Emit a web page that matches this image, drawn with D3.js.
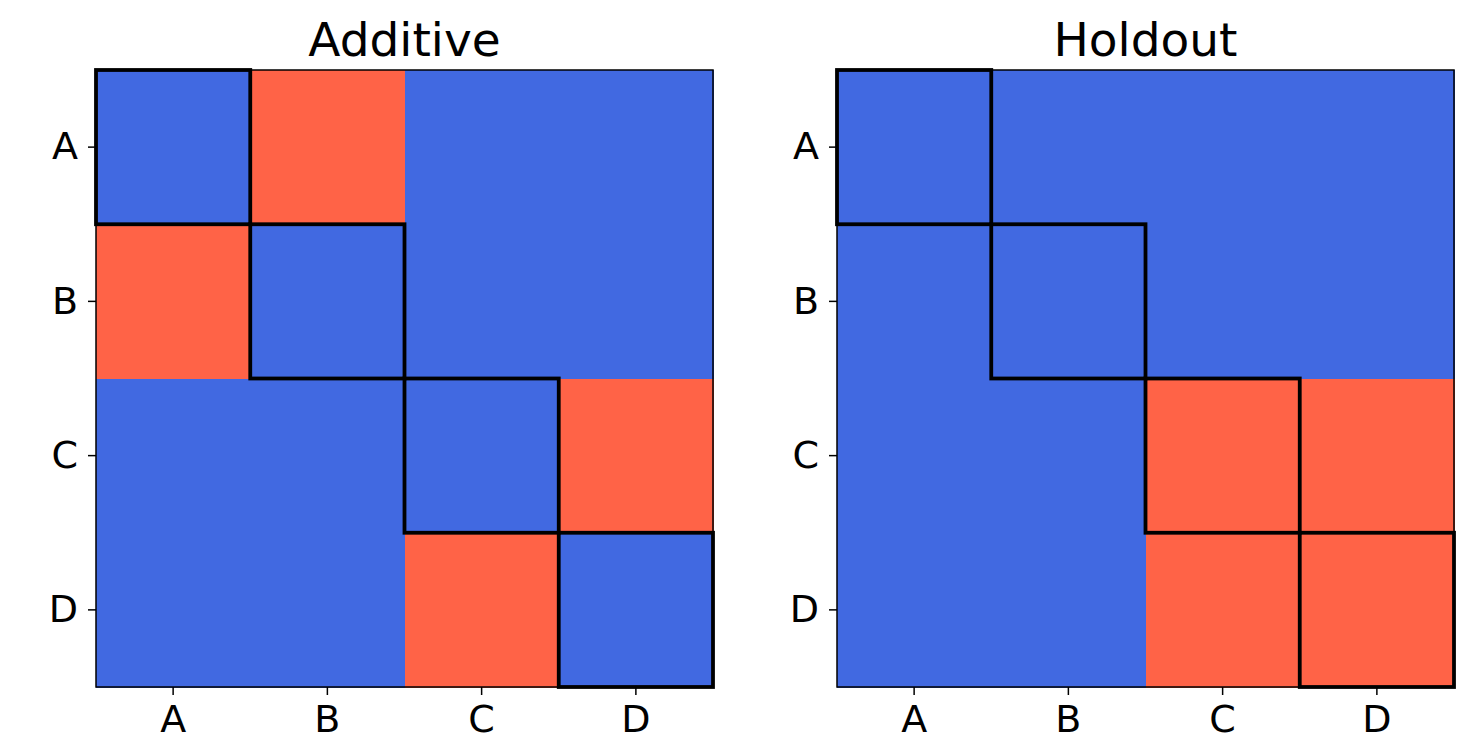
<!DOCTYPE html>
<html>
<head>
<meta charset="utf-8">
<script src="https://cdn.jsdelivr.net/npm/d3@7"></script>
<style>
  body { margin: 0; background: #fff; }
  svg { display: block; font-family: 'DejaVu Sans', sans-serif; }
</style>
</head>
<body>
<svg width="1465" height="736"></svg>
<script>
// categories and panel data (1 = red cell, 0 = blue cell)
var labels = ['A', 'B', 'C', 'D'];
var titles = ['Additive', 'Holdout'];
var additive = [
  [0, 1, 0, 0],
  [1, 0, 0, 0],
  [0, 0, 0, 1],
  [0, 0, 1, 0]
];
var holdout = [
  [0, 0, 0, 0],
  [0, 0, 0, 0],
  [0, 0, 1, 1],
  [0, 0, 1, 1]
];
var panels = [additive, holdout];

var svg = d3.select('svg');
var size = 617; var topY = 70;
var lefts = [96, 837];

var color = d3.scaleOrdinal().domain([0, 1]).range(['#4169E1', '#FF6347']);

panels.forEach(function(m, p) {
  var g = svg.append('g').attr('transform', 'translate(' + lefts[p] + ',' + topY + ')');

  var x = d3.scaleBand().domain(labels).range([0, size]);
  var y = d3.scaleBand().domain(labels).range([0, size]);

  var cells = [];
  m.forEach(function(row, i) {
    row.forEach(function(v, j) {
      cells.push({r: labels[i], c: labels[j], v: v});
    });
  });

  g.selectAll('rect.cell')
    .data(cells)
    .enter()
    .append('rect')
    .attr('class', 'cell')
    .attr('x', d => x(d.c))
    .attr('y', d => y(d.r))
    .attr('width', x.bandwidth() + 1)
    .attr('height', y.bandwidth() + 1)
    .attr('shape-rendering', 'crispEdges')
    .attr('fill', d => color(d.v));

  // spines
  g.append('rect')
    .attr('x', 0).attr('y', 0)
    .attr('width', size).attr('height', size)
    .attr('fill', 'none')
    .attr('stroke', '#000')
    .attr('stroke-width', 1.5);

  // diagonal outlines
  g.selectAll('rect.diag')
    .data(labels)
    .enter()
    .append('rect')
    .attr('class', 'diag')
    .attr('x', d => x(d))
    .attr('y', d => y(d))
    .attr('width', x.bandwidth())
    .attr('height', y.bandwidth())
    .attr('fill', 'none')
    .attr('stroke', '#000')
    .attr('stroke-width', 3.8);

  var xAxis = d3.axisBottom(x).tickSize(8).tickPadding(10);
  var yAxis = d3.axisLeft(y).tickSize(8).tickPadding(10);

  var gx = g.append('g').attr('transform', 'translate(0,' + size + ')').call(xAxis);
  var gy = g.append('g').call(yAxis);

  [gx, gy].forEach(function(a) {
    a.select('.domain').remove();
    a.selectAll('line').attr('stroke', '#000').attr('stroke-width', 1.5);
    a.selectAll('text')
      .attr('font-family', 'DejaVu Sans')
      .attr('font-size', '38px')
      .attr('fill', '#000');
  });

  g.append('text')
    .attr('x', size / 2)
    .attr('y', -14)
    .attr('text-anchor', 'middle')
    .attr('font-family', 'DejaVu Sans')
    .attr('font-size', '47px')
    .attr('fill', '#000')
    .text(titles[p]);
});
</script>
</body>
</html>
